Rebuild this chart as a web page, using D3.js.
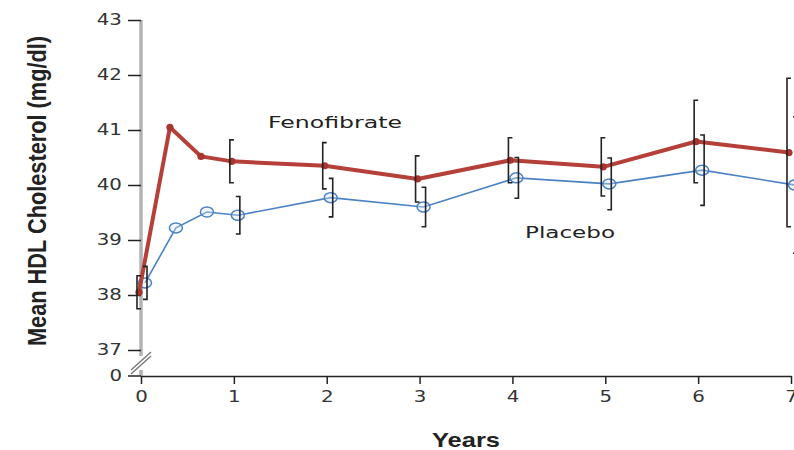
<!DOCTYPE html>
<html>
<head>
<meta charset="utf-8">
<script src="https://cdn.jsdelivr.net/npm/d3@7/dist/d3.min.js"></script>
<style>
  html, body { margin: 0; padding: 0; background: #fff; }
  svg { display: block; }
</style>
</head>
<body>
<svg id="chart" width="794" height="450"></svg>
<script>
// ---- data ----
const years = [0, 0.333, 0.667, 1, 2, 3, 4, 5, 6, 7];
const fenofibrate = [38.05, 41.05, 40.52, 40.43, 40.35, 40.11, 40.45, 40.33, 40.79, 40.59];
const fenofibrateErr = [0.3, null, null, 0.39, 0.42, 0.42, 0.41, 0.53, 0.75, 1.35];
const placebo = [38.22, 39.22, 39.51, 39.45, 39.77, 39.6, 40.13, 40.02, 40.27, 40.0];
const placeboErr = [0.3, null, null, 0.34, 0.35, 0.36, 0.37, 0.47, 0.64, 1.24];
const yTickValues = [37, 38, 39, 40, 41, 42, 43];
const xTickValues = [0, 1, 2, 3, 4, 5, 6, 7];
const seriesNames = ["Fenofibrate", "Placebo"];
const yLabel = "Mean HDL Cholesterol (mg/dl)";
const xLabel = "Years";

// ---- layout ----
const svg = d3.select("#chart");
const x = d3.scaleLinear().domain([0, 7]).range([141, 791]);
const y = d3.scaleLinear().domain([37, 43]).range([350, 20]);
const xAxisY = 376;           // baseline "0" of the broken axis
const redColor = "#b5403a";
const blueColor = "#4a82c4";
const barColor = "#222";

// gray vertical axis with break
svg.append("line").attr("x1", x(0)).attr("x2", x(0))
  .attr("y1", y(43)).attr("y2", y(37) + 6)
  .attr("stroke", "#b3b3b3").attr("stroke-width", 3.5);
svg.append("line").attr("x1", x(0)).attr("x2", x(0))
  .attr("y1", xAxisY - 6).attr("y2", xAxisY)
  .attr("stroke", "#b3b3b3").attr("stroke-width", 3.5);
[0, 4].forEach(off => {
  svg.append("line")
    .attr("x1", x(0) - 10).attr("y1", y(37) + 20 + off)
    .attr("x2", x(0) + 10).attr("y2", y(37) + 2 + off)
    .attr("stroke", "#777").attr("stroke-width", 1.4);
});

// y axis ticks
const yAxis = svg.append("g").attr("transform", `translate(${x(0)},0)`)
  .call(d3.axisLeft(y).tickValues(yTickValues).tickSize(13).tickPadding(6).tickFormat(d3.format("d")));
yAxis.select(".domain").remove();
yAxis.selectAll(".tick line").attr("stroke", barColor).attr("stroke-width", 1.5);
yAxis.selectAll(".tick text")
  .attr("x", -14.5).attr("transform", "scale(1.32,1)")
  .attr("font-family", "DejaVu Sans").attr("font-size", 15).attr("fill", "#333");

// zero tick of broken y axis
svg.append("line").attr("x1", x(0) - 13).attr("x2", x(0))
  .attr("y1", xAxisY).attr("y2", xAxisY).attr("stroke", barColor).attr("stroke-width", 1.5);
svg.append("text").attr("transform", `translate(${x(0) - 19},${xAxisY}) scale(1.32,1)`)
  .attr("text-anchor", "end").attr("dy", "0.32em")
  .attr("font-family", "DejaVu Sans").attr("font-size", 15).attr("fill", "#333").text("0");

// x axis
const xAxis = svg.append("g").attr("transform", `translate(0,${xAxisY})`)
  .call(d3.axisBottom(x).tickValues(xTickValues).tickSize(8).tickPadding(7).tickSizeOuter(0)
    .tickFormat(d3.format("d")));
xAxis.select(".domain").attr("stroke", barColor).attr("stroke-width", 1.5);
xAxis.selectAll(".tick line").attr("stroke", barColor).attr("stroke-width", 1.5);
xAxis.selectAll(".tick text").attr("transform", "scale(1.32,1)")
  .attr("font-family", "DejaVu Sans").attr("font-size", 15).attr("fill", "#333");

// axis titles
svg.append("text")
  .attr("transform", "translate(46,191) scale(1.2,1) rotate(-90)")
  .attr("text-anchor", "middle")
  .attr("font-family", "Liberation Sans, Arial, sans-serif").attr("font-weight", "bold")
  .attr("font-size", 21).attr("fill", "#222")
  .attr("textLength", 310).attr("lengthAdjust", "spacingAndGlyphs")
  .text(yLabel);
svg.append("text")
  .attr("x", 432).attr("y", 447)
  .attr("font-family", "Liberation Sans, Arial, sans-serif").attr("font-weight", "bold")
  .attr("font-size", 21).attr("fill", "#222")
  .attr("textLength", 68).attr("lengthAdjust", "spacingAndGlyphs")
  .text(xLabel);

// series
const redDx = -2, blueDx = 4;
const fenoPts = years.map((t, i) => ({ t, v: fenofibrate[i], e: fenofibrateErr[i] }));
const placPts = years.map((t, i) => ({ t, v: placebo[i], e: placeboErr[i] }));

function errorBars(pts, dx, capDir) {
  const g = svg.append("g").attr("stroke", barColor).attr("stroke-width", 1.6).attr("fill", "none");
  pts.filter(p => p.e != null).forEach(p => {
    const bx = x(p.t) + dx + (capDir > 0 ? -2 : 2);
    const y1 = y(p.v + p.e), y2 = y(p.v - p.e);
    g.append("path").attr("d",
      `M${bx + capDir * 4},${y1}H${bx}V${y2}H${bx + capDir * 4}`);
  });
}

const line = d3.line();

// placebo line
svg.append("path")
  .attr("d", line(placPts.map(p => [x(p.t) + blueDx, y(p.v)])))
  .attr("fill", "none").attr("stroke", blueColor).attr("stroke-width", 1.6);
svg.append("g").selectAll("ellipse").data(placPts).join("ellipse")
  .attr("cx", p => x(p.t) + blueDx).attr("cy", p => y(p.v))
  .attr("rx", 6.5).attr("ry", 5)
  .attr("fill", "rgba(220,232,245,0.35)").attr("stroke", blueColor).attr("stroke-width", 1.5);

// fenofibrate line
svg.append("path")
  .attr("d", line(fenoPts.map(p => [x(p.t) + redDx, y(p.v)])))
  .attr("fill", "none").attr("stroke", redColor).attr("stroke-width", 4)
  .attr("stroke-linejoin", "round");
svg.append("g").selectAll("circle").data(fenoPts).join("circle")
  .attr("cx", p => x(p.t) + redDx).attr("cy", p => y(p.v))
  .attr("r", 3.6).attr("fill", "#a8352f");

errorBars(fenoPts, redDx, 1);
errorBars(placPts, blueDx, -1);

// series labels
svg.append("text").attr("x", 268).attr("y", 128)
  .attr("font-family", "DejaVu Sans").attr("font-size", 16).attr("fill", "#222")
  .attr("textLength", 134).attr("lengthAdjust", "spacingAndGlyphs")
  .text(seriesNames[0]);
svg.append("text").attr("x", 525).attr("y", 238)
  .attr("font-family", "DejaVu Sans").attr("font-size", 16).attr("fill", "#222")
  .attr("textLength", 90).attr("lengthAdjust", "spacingAndGlyphs")
  .text(seriesNames[1]);
</script>
</body>
</html>
